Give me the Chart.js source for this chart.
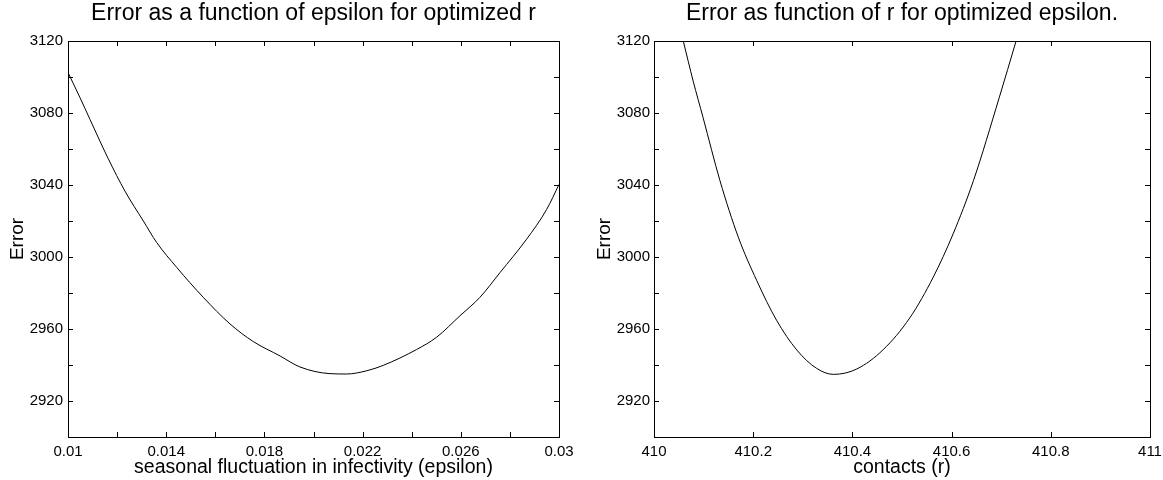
<!DOCTYPE html>
<html>
<head>
<meta charset="utf-8">
<script src="https://cdn.jsdelivr.net/npm/chart.js@4.4.0/dist/chart.umd.min.js"></script>
<style>
  body { margin: 0; background: #fff; }
  #wrap { position: relative; width: 1163px; height: 480px; }
  #leftChart { position: absolute; left: 0; top: 0; }
  #rightChart { position: absolute; left: 580px; top: 0; }
</style>
</head>
<body>
<div id="wrap">
  <canvas id="leftChart" width="580" height="480"></canvas>
  <canvas id="rightChart" width="583" height="480"></canvas>
</div>
<script>
// left panel: error vs epsilon
const epsilonValues = [0.0100, 0.01049, 0.01090, 0.01130, 0.01164, 0.01232, 0.01307,
  0.01361, 0.01443, 0.01551, 0.01660, 0.01755, 0.01864, 0.01945, 0.02067, 0.02135, 0.02217,
  0.02284, 0.02420, 0.02502, 0.02597, 0.02678, 0.02760, 0.02868, 0.02950, 0.0300];
const epsilonError = [3102.5, 3088.5, 3076.3, 3064.4, 3054.6, 3036.6, 3020.0,
  3008.1, 2994.2, 2977.6, 2962.8, 2953.0, 2945.0, 2938.9, 2935.2, 2935.0, 2936.8,
  2939.8, 2948.6, 2955.5, 2967.4, 2977.6, 2991.4, 3009.9, 3026.5, 3040.3];

// right panel: error vs r
const rValues = [410.059, 410.079, 410.099, 410.133, 410.170, 410.207, 410.247, 410.288, 410.328,
  410.362, 410.409, 410.462, 410.516, 410.563, 410.603, 410.644, 410.696, 410.730];
const rError = [3120.0, 3097.7, 3077.4, 3042.4, 3011.0, 2987.0, 2964.9, 2948.3, 2938.1,
  2934.8, 2937.8, 2948.5, 2966.3, 2988.8, 3012.8, 3042.4, 3088.5, 3120.0];

const epsTicks = [0.010, 0.012, 0.014, 0.016, 0.018, 0.020, 0.022, 0.024, 0.026, 0.028, 0.030];
const rTicks = [410, 410.2, 410.4, 410.6, 410.8, 411];

const yMin = 2900, yMax = 3120;
const FONT = "'Liberation Sans', Arial, Helvetica, sans-serif";

// MATLAB style box with inward ticks on all four sides, title centred on the axes
const boxTicks = {
  id: "boxTicks",
  afterDraw(chart, args, opts) {
    const { ctx, chartArea: a, scales } = chart;
    const len = 5;
    ctx.save();
    ctx.strokeStyle = "#000";
    ctx.lineWidth = 1;
    ctx.beginPath();
    scales.x.ticks.forEach((t) => {
      const px = Math.round(scales.x.getPixelForValue(t.value)) + 0.5;
      ctx.moveTo(px, a.bottom); ctx.lineTo(px, a.bottom - len);
      ctx.moveTo(px, a.top); ctx.lineTo(px, a.top + len);
    });
    scales.y.ticks.forEach((t) => {
      const py = Math.round(scales.y.getPixelForValue(t.value)) + 0.5;
      ctx.moveTo(a.left, py); ctx.lineTo(a.left + len, py);
      ctx.moveTo(a.right, py); ctx.lineTo(a.right - len, py);
    });
    ctx.stroke();
    ctx.strokeRect(Math.round(a.left) + 0.5, Math.round(a.top) + 0.5,
      Math.round(a.right - a.left), Math.round(a.bottom - a.top));

    ctx.fillStyle = "#000";
    ctx.font = "23px " + FONT;
    ctx.textAlign = "center";
    ctx.textBaseline = "alphabetic";
    ctx.fillText(opts.text, (a.left + a.right) / 2, 20);
    ctx.restore();
  },
};

function makeChart(id, xs, ys, opts) {
  const ctx = document.getElementById(id).getContext("2d");
  return new Chart(ctx, {
    type: "line",
    data: {
      datasets: [{
        data: xs.map((x, i) => ({ x: x, y: ys[i] })),
        borderColor: "#000",
        borderWidth: 1,
        pointRadius: 0,
        cubicInterpolationMode: "monotone",
        fill: false,
      }],
    },
    options: {
      responsive: false,
      animation: false,
      layout: { padding: { left: 0, right: opts.padRight, top: 41, bottom: 0 } },
      plugins: {
        legend: { display: false },
        tooltip: { enabled: false },
        title: { display: false },
        boxTicks: { text: opts.title },
      },
      scales: {
        x: {
          type: "linear",
          min: opts.xMin,
          max: opts.xMax,
          grid: { display: false, drawTicks: false, tickLength: 0 },
          border: { display: false },
          afterFit: (s) => { s.height = 43; s.paddingLeft = 0; s.paddingRight = 0; },
          afterBuildTicks: (s) => { s.ticks = opts.xTicks.map((v) => ({ value: v })); },
          ticks: {
            autoSkip: false,
            maxRotation: 0,
            padding: 6,
            color: "#000",
            font: { family: FONT, size: 15 },
            callback: opts.xLabel,
          },
          title: {
            display: true,
            text: opts.xTitle,
            color: "#000",
            font: { family: FONT, size: 19.5 },
            padding: { top: 0, bottom: 1 },
          },
        },
        y: {
          min: yMin,
          max: yMax,
          grid: { display: false, drawTicks: false, tickLength: 0 },
          border: { display: false },
          afterFit: (s) => { s.width = opts.yWidth; s.paddingTop = 0; s.paddingBottom = 0; },
          ticks: {
            stepSize: 20,
            autoSkip: false,
            padding: opts.yTickPad,
            color: "#000",
            font: { family: FONT, size: 15 },
            callback: (v) => (v % 40 === 0 ? String(v) : ""),
          },
          title: {
            display: true,
            text: "Error",
            color: "#000",
            font: { family: FONT, size: 19 },
            padding: { top: opts.yTitlePad, bottom: 0 },
          },
        },
      },
    },
    plugins: [boxTicks],
  });
}

makeChart("leftChart", epsilonValues, epsilonError, {
  title: "Error as a function of epsilon for optimized r",
  xTitle: "seasonal fluctuation in infectivity (epsilon)",
  xMin: 0.01, xMax: 0.03, xTicks: epsTicks,
  xLabel: (v) => (Math.round(v * 1000) % 4 === 2 ? String(+v.toFixed(3)) : ""),
  padRight: 21, yWidth: 68, yTitlePad: 6, yTickPad: 5,
});

makeChart("rightChart", rValues, rError, {
  title: "Error as function of r for optimized epsilon.",
  xTitle: "contacts (r)",
  xMin: 410, xMax: 411, xTicks: rTicks,
  xLabel: (v) => String(+v.toFixed(1)),
  padRight: 13, yWidth: 74, yTitlePad: 13, yTickPad: 4,
});
</script>
</body>
</html>
